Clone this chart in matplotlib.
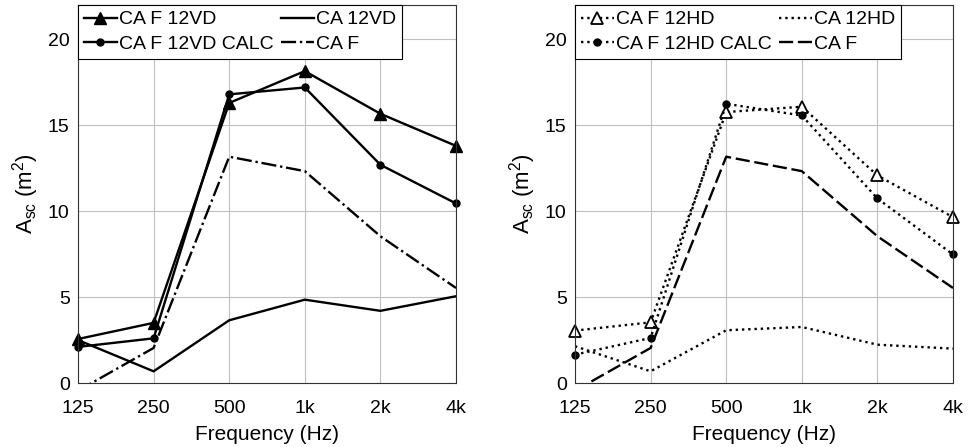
import matplotlib.pyplot as plt

plt.rcParams['font.family'] = ['Liberation Sans', 'DejaVu Sans']
plt.rcParams['font.size'] = 12
plt.rcParams['mathtext.fontset'] = 'custom'
plt.rcParams['mathtext.rm'] = 'Liberation Sans'

freqs = ['125', '250', '500', '1k', '2k', '4k']
x = list(range(len(freqs)))

# left panel (vertical)
ca_f_12vd = [2.56, 3.5, 16.3, 18.15, 15.67, 13.8]
ca_f_12vd_calc = [2.1, 2.6, 16.8, 17.2, 12.7, 10.45]
ca_12vd = [2.5, 0.68, 3.65, 4.85, 4.2, 5.05]
# right panel (horizontal)
ca_f_12hd = [3.05, 3.53, 15.77, 16.08, 12.08, 9.65]
ca_f_12hd_calc = [1.65, 2.62, 16.25, 15.57, 10.74, 7.48]
ca_12hd = [2.14, 0.68, 3.07, 3.26, 2.23, 2.0]
# common
ca_f = [-0.45, 2.04, 13.17, 12.33, 8.54, 5.53]

fig = plt.figure(figsize=(9.68, 4.47), dpi=100)
ax1 = fig.add_axes([78/968, 64/447, 378/968, 378/447])
ax2 = fig.add_axes([575/968, 64/447, 378/968, 378/447])

lw = 1.7
# order matters: legend fills column by column
ax1.plot(x, ca_f_12vd, '-', color='k', lw=lw, marker='^', ms=8, clip_on=False, label='CA F 12VD')
ax1.plot(x, ca_f_12vd_calc, '-', color='k', lw=lw, marker='o', ms=5, clip_on=False, label='CA F 12VD CALC')
ax1.plot(x, ca_12vd, '-', color='k', lw=lw, label='CA 12VD')
ax1.plot(x, ca_f, '-.', color='k', lw=lw, label='CA F')

ax2.plot(x, ca_f_12hd, ':', color='k', lw=lw, marker='^', ms=8, mfc='white', mew=1.3,
         clip_on=False, label='CA F 12HD')
ax2.plot(x, ca_f_12hd_calc, ':', color='k', lw=lw, marker='o', ms=5, clip_on=False, label='CA F 12HD CALC')
ax2.plot(x, ca_12hd, ':', color='k', lw=lw, label='CA 12HD')
ax2.plot(x, ca_f, color='k', lw=lw, linestyle=(0, (6, 2)), label='CA F')

for ax in (ax1, ax2):
    ax.set_xlim(0, 5)
    ax.set_ylim(0, 22)
    ax.set_xticks(x)
    ax.set_xticklabels(freqs, fontsize=14)
    ax.set_yticks([0, 5, 10, 15, 20])
    ax.tick_params(axis='y', labelsize=14, pad=6)
    ax.tick_params(axis='x', pad=12)
    ax.tick_params(direction='in', length=0)
    ax.grid(True, color='#c0c0c0', lw=0.8)
    ax.set_axisbelow(True)
    for s in ax.spines.values():
        s.set_color('#333333')
        s.set_linewidth(0.8)
    ax.set_xlabel('Frequency (Hz)', fontsize=15, labelpad=6)
    ax.set_ylabel(r'A$_{\mathrm{sc}}$ (m$^2$)', fontsize=16, labelpad=5)
    leg = ax.legend(loc='upper left', ncol=2, fontsize=14, frameon=True, fancybox=False,
                    borderaxespad=0, handlelength=1.7, handletextpad=0.1,
                    columnspacing=0.4, borderpad=0.3, labelspacing=0.35)
    leg.get_frame().set_edgecolor('k')
    leg.get_frame().set_linewidth(0.8)
    leg.get_frame().set_alpha(1)

fig.savefig('out.png', dpi=100)
